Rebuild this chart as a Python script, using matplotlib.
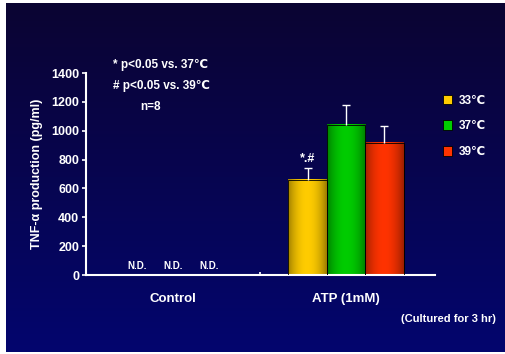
import numpy as np
import matplotlib
matplotlib.use("Agg")
import matplotlib.pyplot as plt
from matplotlib.colors import to_rgb

plt.rcParams['font.family'] = ['Liberation Sans', 'DejaVu Sans']
plt.rcParams['font.weight'] = 'bold'
plt.rcParams['axes.labelweight'] = 'bold'

# data
groups = ["Control", "ATP (1mM)"]
temps = ["33\u2103", "37\u2103", "39\u2103"]
atp_vals = [660, 1040, 915]
atp_err = [80, 140, 115]
control_labels = ["N.D.", "N.D.", "N.D."]
colors = ["#ffcc00", "#00cc00", "#ff3300"]
yticks = [0, 200, 400, 600, 800, 1000, 1200, 1400]

W, H = 506, 354
fig = plt.figure(figsize=(W / 100, H / 100), dpi=100)
fig.patch.set_facecolor("white")

# dark blue slide background
bg = fig.add_axes([6 / W, 2 / H, 499 / W, 349 / H])
top = np.array(to_rgb("#0b0432"))
bot = np.array(to_rgb("#03066e"))
t = np.linspace(0, 1, 256)[:, None]
grad = top[None, :] * (1 - t) + bot[None, :] * t
bg.imshow(grad[:, None, :], aspect="auto", extent=[0, 1, 0, 1])
bg.axis("off")

ax = fig.add_axes([86 / W, 79 / H, 349 / W, 202 / H])
ax.set_facecolor("none")

width = 0.222
offsets = [-width, 0, width]
xs = [1 + o for o in offsets]
bars = ax.bar(xs, atp_vals, width=width, color=colors, edgecolor="black",
              linewidth=0.6, zorder=2)

# cylinder-like shading on the bars
prof = np.linspace(0, 1, 100)
shade = 0.4 + 0.6 * np.sin(np.pi * (prof * 0.85 + 0.08)) ** 0.7
for b, c in zip(bars, colors):
    rgb = np.array(to_rgb(c))
    img = np.clip(rgb[None, :] * shade[:, None], 0, 1)[None, :, :]
    ax.imshow(img, extent=[b.get_x(), b.get_x() + b.get_width(), 0, b.get_height()],
              aspect="auto", zorder=2.5)
    ax.bar(b.get_x() + b.get_width() / 2, b.get_height(), width=b.get_width(),
           facecolor="none", edgecolor="black", linewidth=0.6, zorder=3)

eb = ax.errorbar(xs, atp_vals, yerr=[np.zeros(3), atp_err], fmt="none",
                 ecolor="white", elinewidth=1.0, capsize=3, capthick=1.0, zorder=4)
eb[1][0].set_visible(False)  # hide lower caps
ax.text(xs[0], atp_vals[0] + atp_err[0] + 25, "*.#", color="white",
        ha="center", va="bottom", fontsize=9, fontweight="bold")

for o, lab in zip(offsets, control_labels):
    ax.text(0 + o * 0.94, 25, lab, color="white", ha="center", va="bottom",
            fontsize=7, fontweight="bold")

ax.set_xlim(-0.505, 1.515)
ax.set_ylim(0, 1400)
ax.set_yticks(yticks)
ax.set_xticks([0, 1])
ax.set_xticklabels(groups, fontsize=9.5, fontweight="bold")
ax.set_xticks([0.5], minor=True)
ax.tick_params(axis="x", which="major", length=0, pad=13, colors="white")
ax.tick_params(axis="x", which="minor", length=2, direction="in",
               color="white", width=1.2)
ax.tick_params(axis="y", length=3, width=1.2, colors="white", labelsize=9, pad=2)
for s in ["top", "right"]:
    ax.spines[s].set_visible(False)
for s in ["left", "bottom"]:
    ax.spines[s].set_color("white")
    ax.spines[s].set_linewidth(1.5)
ax.set_ylabel("TNF-\u03b1 production (pg/ml)", color="white", fontsize=9,
              fontweight="bold", labelpad=6)

leg = ax.legend(bars, temps, loc="upper left", bbox_to_anchor=(432 / W, 1 - 84 / H),
                bbox_transform=fig.transFigure, frameon=False, fontsize=8.5,
                handlelength=0.8, handleheight=0.9, handletextpad=0.6,
                labelspacing=1.15, labelcolor="white")

fig.text(113 / W, 1 - 65 / H, "* p<0.05 vs. 37\u2103", color="white",
         fontsize=8.5, va="center")
fig.text(113 / W, 1 - 86 / H, "# p<0.05 vs. 39\u2103", color="white",
         fontsize=8.5, va="center")
fig.text(140 / W, 1 - 107 / H, "n=8", color="white", fontsize=8.5, va="center")
fig.text(496 / W, 1 - 319 / H, "(Cultured for 3 hr)", color="white",
         fontsize=8, ha="right", va="center")

fig.savefig("out.png", dpi=100)
